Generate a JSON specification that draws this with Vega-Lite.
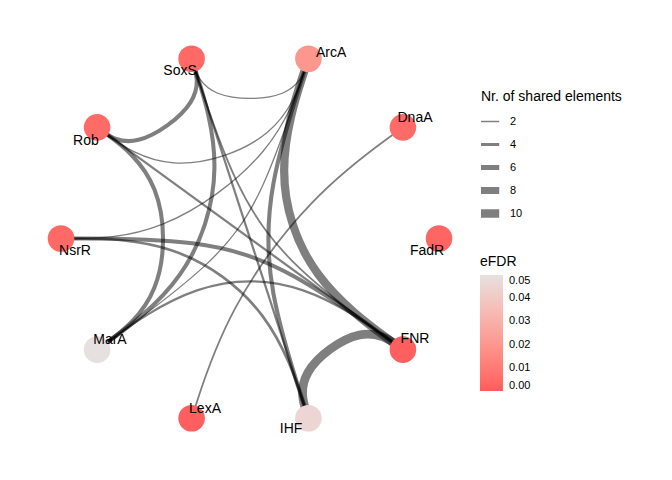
{
  "$schema": "https://vega.github.io/schema/vega-lite/v6.json",
  "width": 672,
  "height": 480,
  "padding": 0,
  "autosize": {"type": "none"},
  "config": {"view": {"stroke": null}, "font": "Liberation Sans"},
  "datasets": {
    "nodes": [
      {"name": "SoxS", "x": -0.309, "y": 0.951, "lx": -0.370, "ly": 0.865, "eFDR": 0.004},
      {"name": "ArcA", "x": 0.309, "y": 0.951, "lx": 0.429, "ly": 0.960, "eFDR": 0.02},
      {"name": "DnaA", "x": 0.809, "y": 0.588, "lx": 0.873, "ly": 0.616, "eFDR": 0.005},
      {"name": "FadR", "x": 1.0, "y": 0.0, "lx": 0.937, "ly": -0.087, "eFDR": 0.003},
      {"name": "FNR", "x": 0.809, "y": -0.588, "lx": 0.873, "ly": -0.553, "eFDR": 0.001},
      {"name": "IHF", "x": 0.309, "y": -0.951, "lx": 0.217, "ly": -1.029, "eFDR": 0.045},
      {"name": "LexA", "x": -0.309, "y": -0.951, "lx": -0.238, "ly": -0.923, "eFDR": 0.001},
      {"name": "MarA", "x": -0.809, "y": -0.588, "lx": -0.741, "ly": -0.558, "eFDR": 0.05},
      {"name": "NsrR", "x": -1.0, "y": 0.0, "lx": -0.926, "ly": -0.087, "eFDR": 0.004},
      {"name": "Rob", "x": -0.809, "y": 0.588, "lx": -0.868, "ly": 0.495, "eFDR": 0.005}
    ],
    "edges": [
      {"e": "SoxS-ArcA", "i": 0, "x": -0.309, "y": 0.951, "n": 2},
      {"e": "SoxS-ArcA", "i": 1, "x": -0.238, "y": 0.732, "n": 2},
      {"e": "SoxS-ArcA", "i": 2, "x": 0.238, "y": 0.732, "n": 2},
      {"e": "SoxS-ArcA", "i": 3, "x": 0.309, "y": 0.951, "n": 2},
      {"e": "SoxS-Rob", "i": 0, "x": -0.309, "y": 0.951, "n": 5},
      {"e": "SoxS-Rob", "i": 1, "x": -0.238, "y": 0.732, "n": 5},
      {"e": "SoxS-Rob", "i": 2, "x": -0.623, "y": 0.453, "n": 5},
      {"e": "SoxS-Rob", "i": 3, "x": -0.809, "y": 0.588, "n": 5},
      {"e": "SoxS-MarA", "i": 0, "x": -0.309, "y": 0.951, "n": 5},
      {"e": "SoxS-MarA", "i": 1, "x": -0.124, "y": 0.380, "n": 5},
      {"e": "SoxS-MarA", "i": 2, "x": -0.324, "y": -0.235, "n": 5},
      {"e": "SoxS-MarA", "i": 3, "x": -0.809, "y": -0.588, "n": 5},
      {"e": "SoxS-FNR", "i": 0, "x": -0.309, "y": 0.951, "n": 2.5},
      {"e": "SoxS-FNR", "i": 1, "x": -0.083, "y": 0.257, "n": 2.5},
      {"e": "SoxS-FNR", "i": 2, "x": 0.218, "y": -0.159, "n": 2.5},
      {"e": "SoxS-FNR", "i": 3, "x": 0.809, "y": -0.588, "n": 2.5},
      {"e": "SoxS-IHF", "i": 0, "x": -0.309, "y": 0.951, "n": 3},
      {"e": "SoxS-IHF", "i": 1, "x": 0.309, "y": -0.951, "n": 3},
      {"e": "Rob-ArcA", "i": 0, "x": -0.809, "y": 0.588, "n": 2},
      {"e": "Rob-ArcA", "i": 1, "x": -0.445, "y": 0.323, "n": 2},
      {"e": "Rob-ArcA", "i": 2, "x": 0.170, "y": 0.523, "n": 2},
      {"e": "Rob-ArcA", "i": 3, "x": 0.309, "y": 0.951, "n": 2},
      {"e": "Rob-MarA", "i": 0, "x": -0.809, "y": 0.588, "n": 5},
      {"e": "Rob-MarA", "i": 1, "x": -0.445, "y": 0.323, "n": 5},
      {"e": "Rob-MarA", "i": 2, "x": -0.445, "y": -0.323, "n": 5},
      {"e": "Rob-MarA", "i": 3, "x": -0.809, "y": -0.588, "n": 5},
      {"e": "Rob-FNR", "i": 0, "x": -0.809, "y": 0.588, "n": 3},
      {"e": "Rob-FNR", "i": 1, "x": 0.809, "y": -0.588, "n": 3},
      {"e": "NsrR-ArcA", "i": 0, "x": -1.0, "y": 0.0, "n": 2},
      {"e": "NsrR-ArcA", "i": 1, "x": -0.48, "y": 0.0, "n": 2},
      {"e": "NsrR-ArcA", "i": 2, "x": 0.148, "y": 0.457, "n": 2},
      {"e": "NsrR-ArcA", "i": 3, "x": 0.309, "y": 0.951, "n": 2},
      {"e": "NsrR-FNR", "i": 0, "x": -1.0, "y": 0.0, "n": 5},
      {"e": "NsrR-FNR", "i": 1, "x": -0.26, "y": 0.0, "n": 5},
      {"e": "NsrR-FNR", "i": 2, "x": 0.210, "y": -0.153, "n": 5},
      {"e": "NsrR-FNR", "i": 3, "x": 0.809, "y": -0.588, "n": 5},
      {"e": "NsrR-IHF", "i": 0, "x": -1.0, "y": 0.0, "n": 3.5},
      {"e": "NsrR-IHF", "i": 1, "x": -0.4, "y": 0.0, "n": 3.5},
      {"e": "NsrR-IHF", "i": 2, "x": 0.124, "y": -0.380, "n": 3.5},
      {"e": "NsrR-IHF", "i": 3, "x": 0.309, "y": -0.951, "n": 3.5},
      {"e": "MarA-ArcA", "i": 0, "x": -0.809, "y": -0.588, "n": 2},
      {"e": "MarA-ArcA", "i": 1, "x": -0.186, "y": -0.135, "n": 2},
      {"e": "MarA-ArcA", "i": 2, "x": 0.071, "y": 0.219, "n": 2},
      {"e": "MarA-ArcA", "i": 3, "x": 0.309, "y": 0.951, "n": 2},
      {"e": "MarA-FNR", "i": 0, "x": -0.809, "y": -0.588, "n": 3},
      {"e": "MarA-FNR", "i": 1, "x": -0.291, "y": -0.212, "n": 3},
      {"e": "MarA-FNR", "i": 2, "x": 0.291, "y": -0.212, "n": 3},
      {"e": "MarA-FNR", "i": 3, "x": 0.809, "y": -0.588, "n": 3},
      {"e": "ArcA-FNR", "i": 0, "x": 0.309, "y": 0.951, "n": 9.5},
      {"e": "ArcA-FNR", "i": 1, "x": 0.117, "y": 0.361, "n": 9.5},
      {"e": "ArcA-FNR", "i": 2, "x": 0.307, "y": -0.223, "n": 9.5},
      {"e": "ArcA-FNR", "i": 3, "x": 0.809, "y": -0.588, "n": 9.5},
      {"e": "ArcA-IHF", "i": 0, "x": 0.309, "y": 0.951, "n": 5},
      {"e": "ArcA-IHF", "i": 1, "x": 0.087, "y": 0.266, "n": 5},
      {"e": "ArcA-IHF", "i": 2, "x": 0.087, "y": -0.266, "n": 5},
      {"e": "ArcA-IHF", "i": 3, "x": 0.309, "y": -0.951, "n": 5},
      {"e": "IHF-FNR", "i": 0, "x": 0.309, "y": -0.951, "n": 10},
      {"e": "IHF-FNR", "i": 1, "x": 0.232, "y": -0.713, "n": 10},
      {"e": "IHF-FNR", "i": 2, "x": 0.607, "y": -0.441, "n": 10},
      {"e": "IHF-FNR", "i": 3, "x": 0.809, "y": -0.588, "n": 10},
      {"e": "DnaA-LexA", "i": 0, "x": 0.809, "y": 0.588, "n": 2.5},
      {"e": "DnaA-LexA", "i": 1, "x": 0.324, "y": 0.235, "n": 2.5},
      {"e": "DnaA-LexA", "i": 2, "x": -0.124, "y": -0.380, "n": 2.5},
      {"e": "DnaA-LexA", "i": 3, "x": -0.309, "y": -0.951, "n": 2.5}
    ]
  },
  "layer": [
    {
      "data": {"name": "edges"},
      "mark": {"type": "line", "interpolate": "basis", "stroke": "black", "strokeOpacity": 0.5, "strokeCap": "butt"},
      "encoding": {
        "x": {"field": "x", "type": "quantitative", "axis": null, "scale": {"domain": [-1.3228, 2.2328], "nice": false, "zero": false}},
        "y": {"field": "y", "type": "quantitative", "axis": null, "scale": {"domain": [-1.2778, 1.2619], "nice": false, "zero": false}},
        "detail": {"field": "e", "type": "nominal"},
        "order": {"field": "i", "type": "quantitative"},
        "strokeWidth": {
          "field": "n", "type": "quantitative",
          "scale": {"domain": [2, 10], "range": [1.3, 8.7], "zero": false, "nice": false},
          "legend": {
            "title": "Nr. of shared elements", "values": [2, 4, 6, 8, 10],
            "orient": "none", "legendX": 481, "legendY": 90,
            "symbolType": "stroke", "symbolStrokeColor": "#7f7f7f", "symbolOpacity": 1, "symbolSize": 340,
            "symbolOffset": -5, "clipHeight": 19,
            "titleFontSize": 14, "titleFontWeight": "normal", "titleColor": "black", "titlePadding": 8,
            "labelFontSize": 11, "labelColor": "black", "labelOffset": 6, "rowPadding": 4
          }
        }
      }
    },
    {
      "data": {"name": "nodes"},
      "mark": {"type": "point", "filled": true, "shape": "circle", "size": 707, "opacity": 1},
      "encoding": {
        "x": {"field": "x", "type": "quantitative", "axis": null, "scale": {"domain": [-1.3228, 2.2328], "nice": false, "zero": false}},
        "y": {"field": "y", "type": "quantitative", "axis": null, "scale": {"domain": [-1.2778, 1.2619], "nice": false, "zero": false}},
        "color": {
          "field": "eFDR", "type": "quantitative",
          "scale": {"domain": [0, 0.05], "range": ["#FF5C5C", "#E6E1E0"], "interpolate": "lab", "nice": false, "zero": false},
          "legend": {
            "title": "eFDR", "orient": "none", "legendX": 480, "legendY": 255, "direction": "vertical",
            "gradientLength": 116, "gradientThickness": 23, "gradientStrokeWidth": 0,
            "values": [0, 0.01, 0.02, 0.03, 0.04, 0.05], "format": ".2f",
            "titleFontSize": 14, "titleFontWeight": "normal", "titleColor": "black", "titlePadding": 6,
            "labelFontSize": 11, "labelColor": "black", "labelOffset": 6
          }
        }
      }
    },
    {
      "data": {"name": "nodes"},
      "mark": {"type": "text", "align": "center", "baseline": "alphabetic", "fontSize": 14, "font": "Liberation Sans", "color": "black"},
      "encoding": {
        "x": {"field": "lx", "type": "quantitative", "axis": null, "scale": {"domain": [-1.3228, 2.2328], "nice": false, "zero": false}},
        "y": {"field": "ly", "type": "quantitative", "axis": null, "scale": {"domain": [-1.2778, 1.2619], "nice": false, "zero": false}},
        "text": {"field": "name", "type": "nominal"}
      }
    }
  ]
}
